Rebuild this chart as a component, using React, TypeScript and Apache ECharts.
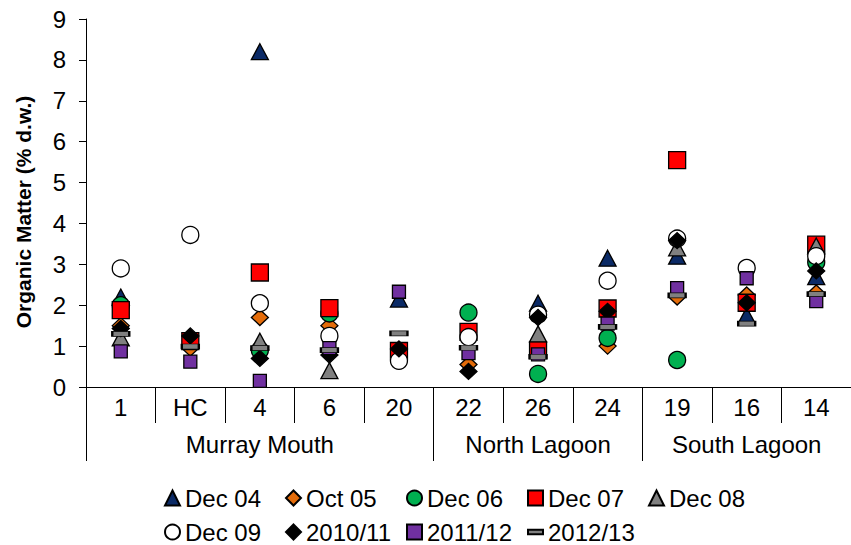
import { useEffect, useRef } from 'react';
import * as echarts from 'echarts';

const FONT = '"Liberation Sans", Arial, Helvetica, sans-serif';

// Sampling sites, in order along the x axis
const categories = ['1', 'HC', '4', '6', '20', '22', '26', '24', '19', '16', '14'];
// Regions and how many sites each spans
const groups = ['Murray Mouth', 'North Lagoon', 'South Lagoon'];
const groupSizes = [5, 3, 3];

// Organic matter (% d.w.) per sampling campaign, one value per site (null = not sampled)
const dec04 = [2.2, null, 8.2, null, 2.15, null, 2.05, 3.15, 3.2, 1.75, 2.7];
const oct05 = [1.5, 0.95, 1.7, 1.5, null, 0.55, null, 1.0, 2.2, 2.25, 2.3];
const dec06 = [2.0, null, 0.9, 1.8, null, 1.82, 0.32, 1.2, 0.66, null, 3.05];
const dec07 = [1.88, 1.12, 2.8, 1.93, 0.88, 1.35, 0.9, 1.92, 5.55, 2.06, 3.48];
const dec08 = [1.2, null, 1.12, 0.4, null, null, 1.3, null, 3.4, null, 3.45];
const dec09 = [2.9, 3.72, 2.05, 1.25, 0.64, 1.22, 1.77, 2.6, 3.63, 2.91, 3.2];
const y1011 = [1.43, 1.25, 0.7, 0.78, 0.93, 0.38, 1.7, 1.85, 3.58, 2.06, 2.84];
const y1112 = [0.87, 0.62, 0.15, 0.95, 2.33, 0.83, 0.8, 1.55, 2.42, 2.66, 2.1];
const y1213 = [1.3, 0.99, 0.95, 0.9, 1.31, 0.96, 0.74, 1.47, 2.24, 1.55, 2.27];

const yTicks = [0, 1, 2, 3, 4, 5, 6, 7, 8, 9];

type SeriesDef = {
  name: string;
  values: (number | null)[];
  symbol: string;
  size: number | number[];
  color: string;
  icon?: string;
};

const seriesDefs: SeriesDef[] = [
  { name: 'Dec 04', values: dec04, symbol: 'triangle', size: [17, 16], color: '#0B2A66' },
  { name: 'Oct 05', values: oct05, symbol: 'diamond', size: [17, 16], color: '#E46C0A' },
  { name: 'Dec 06', values: dec06, symbol: 'circle', size: 17, color: '#00B050' },
  { name: 'Dec 07', values: dec07, symbol: 'rect', size: 17, color: '#FF0000' },
  { name: 'Dec 08', values: dec08, symbol: 'triangle', size: [17, 16], color: '#808080' },
  { name: 'Dec 09', values: dec09, symbol: 'circle', size: 17, color: '#FFFFFF' },
  { name: '2010/11', values: y1011, symbol: 'diamond', size: [17, 16], color: '#000000' },
  { name: '2011/12', values: y1112, symbol: 'rect', size: 13, color: '#7030A0' },
  {
    name: '2012/13',
    values: y1213,
    symbol: 'rect',
    size: [17, 5],
    color: '#808080',
    icon: 'path://M0,0H16V5H0Z',
  },
];

export default function App() {
  const ref = useRef<HTMLDivElement>(null);

  useEffect(() => {
    if (!ref.current) return;
    const chart = echarts.init(ref.current, null, { renderer: 'svg' });

    // group boundaries and centres in category units
    const bounds: number[] = [0];
    const mids: number[] = [];
    groupSizes.forEach((n, i) => {
      mids.push(bounds[i] + n / 2);
      bounds.push(bounds[i] + n);
    });

    const textBase = { fontFamily: FONT, color: '#000', fontSize: 24 };

    const series = seriesDefs.map((s) => ({
      name: s.name,
      type: 'scatter',
      xAxisIndex: 0,
      yAxisIndex: 0,
      symbol: s.symbol,
      symbolSize: s.size,
      itemStyle: { color: s.color, borderColor: '#000', borderWidth: 1.3, opacity: 1 },
      emphasis: { disabled: true },
      data: s.values
        .map((v, i) => (v == null ? null : [categories[i], v]))
        .filter((d) => d !== null),
    }));

    const legendItem = (s: SeriesDef) =>
      s.icon ? { name: s.name, icon: s.icon } : { name: s.name };

    const legendCommon = {
      orient: 'horizontal',
      left: 164,
      padding: 0,
      itemGap: 10,
      itemWidth: 15,
      itemHeight: 15,
      selectedMode: false,
      textStyle: { ...textBase, width: 90, lineHeight: 20 },
    };

    chart.setOption({
      animation: false,
      backgroundColor: '#fff',
      textStyle: { fontFamily: FONT },
      grid: { left: 86, top: 19, width: 771, bottom: 158, containLabel: false },
      xAxis: [
        {
          type: 'category',
          data: categories,
          boundaryGap: true,
          axisLine: { show: true, lineStyle: { color: '#000', width: 1 } },
          axisTick: { show: true, interval: 0, length: 36, lineStyle: { color: '#000', width: 1 } },
          axisLabel: { ...textBase, interval: 0, margin: 8 },
          splitLine: { show: false },
        },
        {
          type: 'value',
          position: 'bottom',
          min: 0,
          max: categories.length,
          axisLine: { show: false },
          axisTick: {
            show: true,
            customValues: bounds,
            length: 74,
            lineStyle: { color: '#000', width: 1 },
          },
          axisLabel: {
            ...textBase,
            customValues: mids,
            margin: 45,
            formatter: (v: number) => groups[mids.indexOf(v)] ?? '',
          },
          splitLine: { show: false },
        },
      ],
      yAxis: {
        type: 'value',
        min: yTicks[0],
        max: yTicks[yTicks.length - 1],
        interval: 1,
        axisLine: { show: true, lineStyle: { color: '#000', width: 1 } },
        axisTick: { show: true, length: 7, lineStyle: { color: '#000', width: 1 } },
        axisLabel: { ...textBase, margin: 20 },
        splitLine: { show: false },
      },
      legend: [
        { ...legendCommon, top: 486, data: seriesDefs.slice(0, 5).map(legendItem) },
        { ...legendCommon, top: 520, data: seriesDefs.slice(5).map(legendItem) },
      ],
      graphic: [
        {
          type: 'text',
          x: 23,
          y: 212,
          rotation: Math.PI / 2,
          style: {
            text: 'Organic Matter (% d.w.)',
            fontFamily: FONT,
            fontSize: 21,
            fontWeight: 'bold',
            fill: '#000',
            align: 'center',
            verticalAlign: 'middle',
          },
        },
      ],
      series,
    });

    return () => chart.dispose();
  }, []);

  return (
    <div
      ref={ref}
      style={{ position: 'fixed', left: 0, top: 0, width: 851, height: 545, background: '#fff' }}
    />
  );
}
